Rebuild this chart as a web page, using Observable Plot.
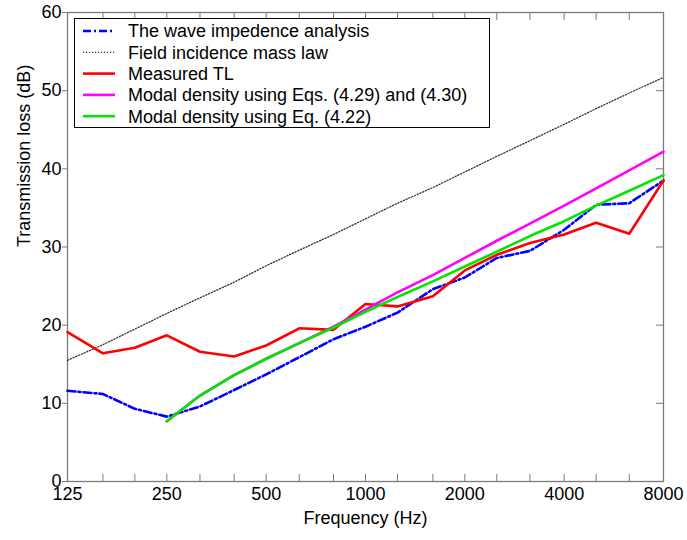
<!DOCTYPE html>
<html>
<head>
<meta charset="utf-8">
<script src="https://cdn.jsdelivr.net/npm/d3@7"></script>
<script src="https://cdn.jsdelivr.net/npm/@observablehq/plot@0.6"></script>
<style>
  html, body { margin: 0; padding: 0; background: white; }
  #wrap { position: relative; width: 687px; height: 540px; font-family: "Liberation Sans", Arial, sans-serif; }
  #legend { position: absolute; left: 74px; top: 18px; }
</style>
</head>
<body>
<div id="wrap"><div id="chart"></div><svg id="legend"></svg></div>
<script>
// Third-octave band centre frequencies (Hz)
const bands = [125, 160, 200, 250, 315, 400, 500, 630, 800, 1000, 1250, 1600, 2000, 2500, 3150, 4000, 5000, 6300, 8000];
const octaveTicks = [125, 250, 500, 1000, 2000, 4000, 8000];
const yTicks = [0, 10, 20, 30, 40, 50, 60];

// Series values (dB)
const waveImpedance = [11.6, 11.2, 9.3, 8.3, 9.6, 11.7, 13.7, 15.9, 18.2, 19.8, 21.6, 24.6, 26.1, 28.6, 29.5, 32.2, 35.4, 35.6, 38.5];
const massLaw = [15.5, 17.5, 19.5, 21.5, 23.5, 25.5, 27.6, 29.6, 31.6, 33.6, 35.6, 37.6, 39.6, 41.6, 43.6, 45.7, 47.7, 49.7, 51.7];
const measuredTL = [19.1, 16.4, 17.1, 18.7, 16.6, 16.0, 17.4, 19.6, 19.4, 22.7, 22.4, 23.7, 27.0, 29.0, 30.5, 31.6, 33.1, 31.7, 38.5];
const modalBands = [250, 315, 400, 500, 630, 800, 1000, 1250, 1600, 2000, 2500, 3150, 4000, 5000, 6300, 8000];
const modalEqs429 = [7.7, 11.0, 13.6, 15.7, 17.7, 19.8, 22.0, 24.2, 26.4, 28.6, 30.8, 33.0, 35.3, 37.5, 39.8, 42.2];
const modalEq422 = [7.7, 11.0, 13.6, 15.7, 17.7, 19.7, 21.7, 23.6, 25.6, 27.5, 29.4, 31.4, 33.3, 35.3, 37.2, 39.2];

const seriesNames = [
  "The wave impedence analysis",
  "Field incidence mass law",
  "Measured TL",
  "Modal density using Eqs. (4.29) and (4.30)",
  "Modal density using Eq. (4.22)"
];
const seriesColors = ["#0000ff", "#333333", "#ff0000", "#ff00ff", "#00e600"];
const seriesDash = ["8,3,2,3", "1.2,1.8", null, null, null];
const seriesWidth = [2.6, 1.3, 2.6, 2.6, 2.6];

const toRows = (xs, ys) => xs.map((f, i) => ({f, v: ys[i]}));
const seriesData = [
  toRows(bands, waveImpedance),
  toRows(bands, massLaw),
  toRows(bands, measuredTL),
  toRows(modalBands, modalEqs429),
  toRows(modalBands, modalEq422)
];

const axisStroke = "#7a7a7a";

const chart = Plot.plot({
  width: 687,
  height: 540,
  marginLeft: 67,
  marginRight: 24,
  marginTop: 12,
  marginBottom: 59,
  style: {fontFamily: "'Liberation Sans', Arial, sans-serif", fontSize: "18px", color: "black", background: "white"},
  x: {type: "log", domain: [125, 8000]},
  y: {domain: [0, 60]},
  marks: [
    Plot.axisY({anchor: "left", ticks: yTicks, tickSize: 5, tickPadding: 1, label: null, fontSize: 18, stroke: axisStroke, fill: "black"}),
    Plot.axisY({anchor: "right", ticks: yTicks, tickSize: -8, tickFormat: () => "", label: null, stroke: axisStroke}),
    Plot.axisX({anchor: "bottom", ticks: bands, tickSize: -7, tickFormat: () => "", label: null, stroke: axisStroke}),
    Plot.axisX({anchor: "top", ticks: bands, tickSize: -7, tickFormat: () => "", label: null, stroke: axisStroke}),
    Plot.text(octaveTicks, {x: d => d, text: d => String(d), frameAnchor: "bottom", lineAnchor: "top", dy: 6, fontSize: 18, fill: "black"}),
    Plot.frame({stroke: axisStroke, strokeWidth: 1.3}),
    ...seriesData.map((rows, i) => Plot.line(rows, {
      x: "f", y: "v",
      stroke: seriesColors[i],
      strokeWidth: seriesWidth[i],
      strokeDasharray: seriesDash[i],
      strokeLinejoin: "round"
    })),
    Plot.text(["Transmission loss (dB)"], {text: d => d, frameAnchor: "left", rotate: -90, dx: -43, fontSize: 18, fill: "black"}),
    Plot.text(["Frequency (Hz)"], {text: d => d, frameAnchor: "bottom", dy: 42, fontSize: 18, fill: "black"})
  ]
});
document.getElementById("chart").appendChild(chart);

// Legend (inside the plot, top-left)
const lw = 415, lh = 109, rowH = 21.3;
const leg = d3.select("#legend").attr("width", lw + 2).attr("height", lh + 2);
leg.append("rect").attr("x", 0.5).attr("y", 0.5).attr("width", lw).attr("height", lh)
  .attr("fill", "white").attr("stroke", "black").attr("stroke-width", 1);
seriesNames.forEach((name, i) => {
  const cy = 13 + i * rowH;
  leg.append("line").attr("x1", 9).attr("x2", 41).attr("y1", cy).attr("y2", cy)
    .attr("stroke", seriesColors[i]).attr("stroke-width", seriesWidth[i])
    .attr("stroke-dasharray", seriesDash[i]);
  leg.append("text").attr("x", 54).attr("y", cy).attr("dy", "0.35em")
    .attr("font-size", "18px").attr("font-family", "'Liberation Sans', Arial, sans-serif")
    .attr("fill", "black").text(name);
});
</script>
</body>
</html>
